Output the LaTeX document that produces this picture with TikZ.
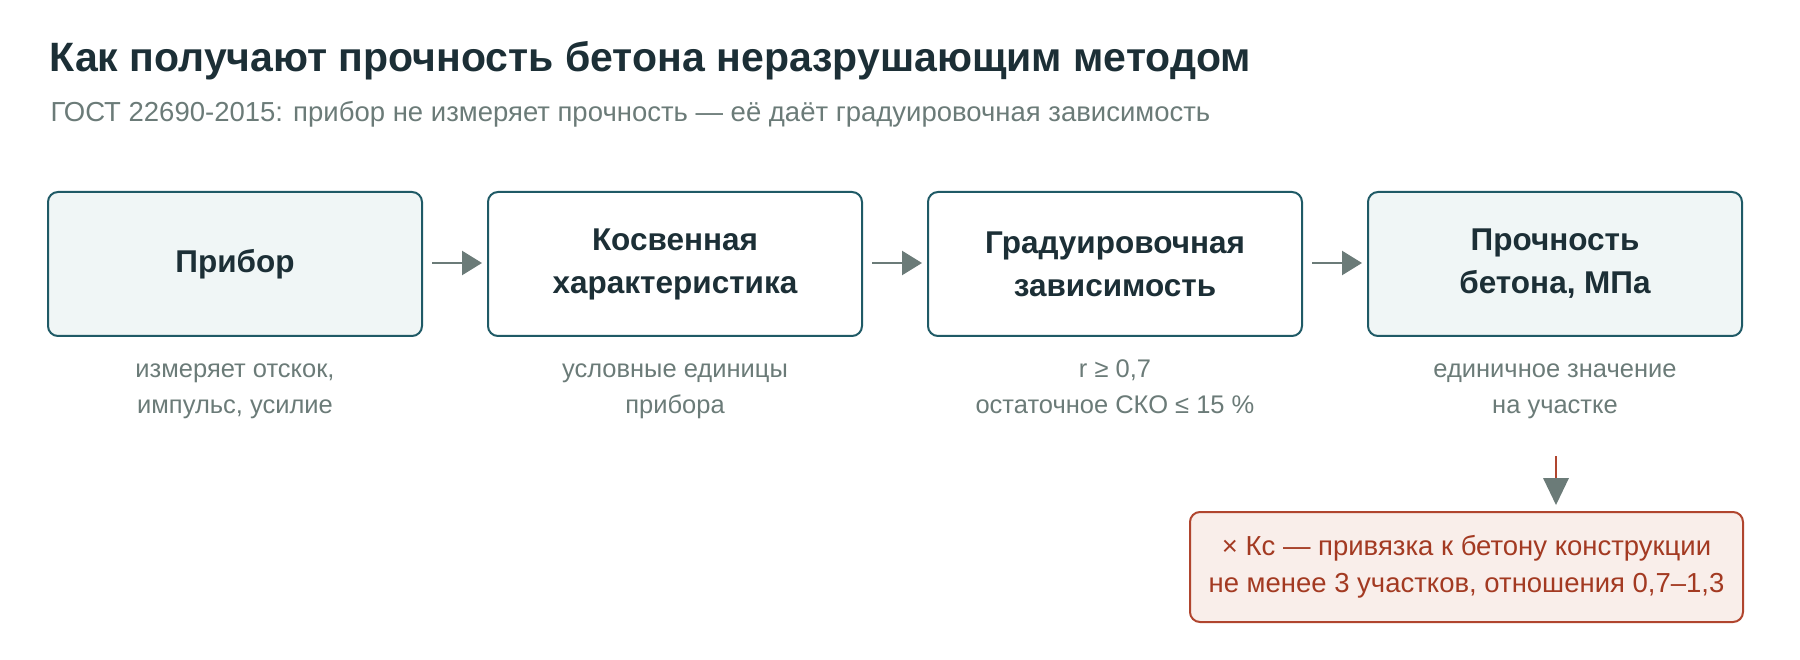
\documentclass[tikz,border=0pt]{standalone}
\usepackage{fontspec}
\setmainfont{Liberation Sans}
\usetikzlibrary{arrows.meta}
\definecolor{ttl}{HTML}{1C2F36}
\definecolor{sub}{HTML}{6B7B78}
\definecolor{bord}{HTML}{1F5A66}
\definecolor{lfill}{HTML}{F0F6F6}
\definecolor{rbord}{HTML}{B0452E}
\definecolor{rfill}{HTML}{F9EEEA}
\definecolor{rtext}{HTML}{A33A22}
\begin{document}
\begin{tikzpicture}[x=1pt,y=-1pt,
  box/.style={draw=bord,line width=2pt,rounded corners=10pt,minimum width=374pt,minimum height=144pt,align=center,font=\fontsize{31.5}{43}\selectfont\bfseries,text=ttl},
  captxt/.style={align=center,font=\fontsize{25.5}{36}\selectfont,text=sub,inner sep=0pt},
  arr/.style={draw=sub,line width=2.5pt,-{Triangle[length=20pt,width=24pt]}}]
\useasboundingbox (0,0) rectangle (1800,660);
\node[anchor=base west,font=\fontsize{41}{48}\selectfont\bfseries,text=ttl] (title) at (46,72) {Как получают прочность бетона неразрушающим методом};
\node[anchor=base west,font=\fontsize{27.5}{32}\selectfont,text=sub] (subt) at (47,122) {ГОСТ 22690-2015: прибор не измеряет прочность — её даёт градуировочная зависимость};
\node[box,fill=lfill] (b1) at (235,264) {Прибор};
\node[box,fill=white] (b2) at (675,264) {Косвенная\\характеристика};
\node[box,fill=white] (b3) at (1115,264) {Градуировочная\\зависимость};
\node[box,fill=lfill] (b4) at (1555,264) {Прочность\\бетона, МПа};
\draw[arr] ([xshift=9pt,yshift=1pt]b1.east) -- ([xshift=-5pt,yshift=1pt]b2.west);
\draw[arr] ([xshift=9pt,yshift=1pt]b2.east) -- ([xshift=-5pt,yshift=1pt]b3.west);
\draw[arr] ([xshift=9pt,yshift=1pt]b3.east) -- ([xshift=-5pt,yshift=1pt]b4.west);
\node[captxt] (c1) at (235,388) {\strut измеряет отскок,\\\strut импульс, усилие};
\node[captxt] (c2) at (675,388) {\strut условные единицы\\\strut прибора};
\node[captxt] (c3) at (1115,388) {\strut r ≥ 0,7\\\strut остаточное СКО ≤ 15 \%};
\node[captxt] (c4) at (1555,388) {\strut единичное значение\\\strut на участке};
\node[draw=rbord,fill=rfill,line width=2pt,rounded corners=10pt,minimum width=553pt,minimum height=110pt,align=center,text=rtext,font=\fontsize{27.5}{37}\selectfont] (rb) at (1466.5,567) {× Кс — привязка к бетону конструкции\\не менее 3 участков, отношения 0,7–1,3};
\coordinate (ds) at (1556,456);
\draw[draw=rbord,line width=2pt] (ds) -- (1556,480);
\draw[draw=none,fill=sub] (1543,478) -- (1569,478) -- (1556,505) -- cycle;
\end{tikzpicture}
\end{document}
